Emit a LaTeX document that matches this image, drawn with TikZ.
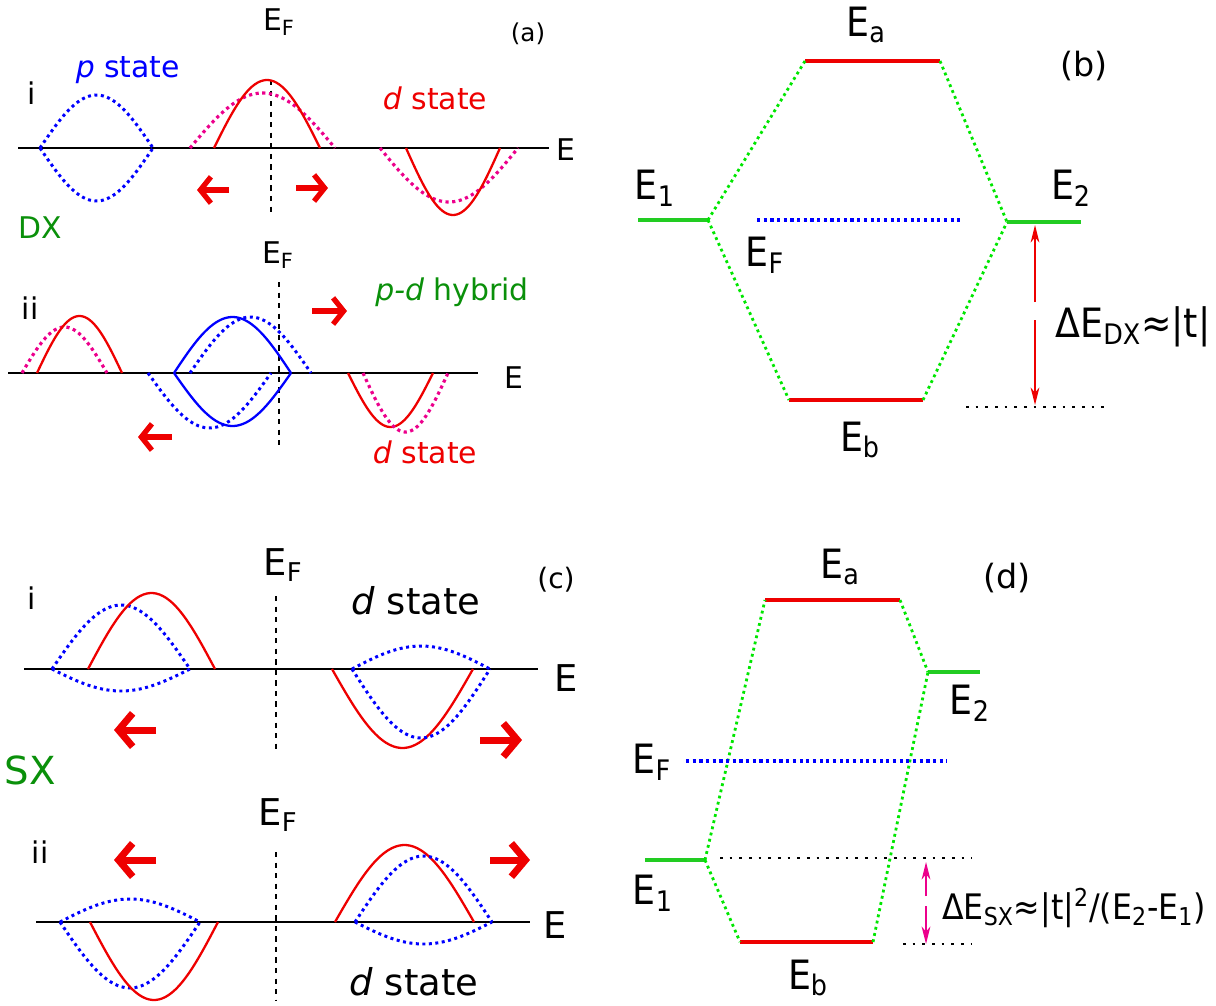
\documentclass[tikz,border=0pt]{standalone}
\usepackage{fontspec}
\setmainfont{DejaVu Sans}
\newfontfamily\condfont{DejaVu Sans Condensed}
\usetikzlibrary{arrows.meta}
\definecolor{dgreen}{HTML}{0A900A}
\definecolor{lgreen}{HTML}{22CC22}
\definecolor{vgreen}{HTML}{00E600}
\definecolor{dred}{HTML}{EE0000}
% one sine lobe: style, start x, end x, amplitude (up), axis y
\newcommand{\lobe}[5]{\draw[#1] plot[domain=0:180,samples=40,smooth] ({#2+(#3-#2)*(\x/180)},{#5-(#4)*sin(\x)});}

\begin{document}
\begin{tikzpicture}[x=0.02cm,y=-0.02cm,
    lab/.style={font=\fontsize{17}{20}\selectfont,inner sep=0pt},
    big/.style={font=\fontsize{21}{25}\selectfont,inner sep=0pt},
    lvl/.style={font=\condfont\fontsize{23}{27}\selectfont,inner sep=0pt},
    axis/.style={line width=1.2pt},
    fermi/.style={dashed,line width=1.2pt},
    dsol/.style={dred,line width=1.3pt},
    psol/.style={blue,line width=1.3pt},
    pdot/.style={blue,dotted,line width=1.7pt},
    mdot/.style={magenta,dotted,line width=1.8pt},
    drift/.style={dred,line width=3pt,-{Straight Barb[length=6pt,width=15pt]}},
    bigdrift/.style={dred,line width=4pt,-{Straight Barb[length=8pt,width=19pt]}},
    level/.style={line width=1.8pt},
    link/.style={vgreen,line width=1.6pt,dash pattern=on 1.6pt off 2pt},
    efdot/.style={blue,dotted,line width=1.8pt},
    refdot/.style={line width=1.5pt,dash pattern=on 1.5pt off 4pt},
    gap/.style={line width=0.8pt,-{Stealth[length=10pt,width=5pt,inset=3pt]}}]
  \useasboundingbox (0,0) rectangle (1216,1005);

  % (a) i
  \draw[axis] (18,148) -- (549,148);
  \draw[fermi] (271,80) -- (271,212);
  \lobe{pdot}{40}{153}{53}{148}
  \lobe{pdot}{40}{153}{-53}{148}
  \lobe{mdot}{190}{335}{55}{148}
  \lobe{dsol}{214}{320}{68}{148}
  \lobe{mdot}{380}{518}{-54}{148}
  \lobe{dsol}{406}{500}{-67}{148}
  \draw[drift] (229,190) -- (197,190);
  \draw[drift] (296,188) -- (328,188);
  \node[lab] (efai) at (279,22) {E\textsubscript{F}};
  \node[lab,font=\fontsize{14}{16}\selectfont] (tagA) at (528,34) {(a)};
  \node[lab,text=blue] (pstate) at (128,70) {\textit{p} state};
  \node[lab] (rowai) at (32,93) {i};
  \node[lab,text=dred] (dstateai) at (435,98) {\textit{d} state};
  \node[lab] (eai) at (566,150) {E};
  \node[lab,text=dgreen] (dx) at (40,228) {DX};

  % (a) ii
  \draw[axis] (8,373) -- (478,373);
  \draw[fermi] (279,282) -- (279,450);
  \lobe{mdot}{22}{107}{46}{373}
  \lobe{dsol}{37}{122}{57}{373}
  \lobe{pdot}{190}{311}{56}{373}
  \lobe{pdot}{148}{271}{-55}{373}
  \lobe{psol}{174}{291}{56}{373}
  \lobe{psol}{174}{291}{-53}{373}
  \lobe{dsol}{348}{433}{-54}{373}
  \lobe{mdot}{363}{448}{-59}{373}
  \draw[drift] (312,311) -- (347,311);
  \draw[drift] (172,437) -- (138,437);
  \node[lab] (efaii) at (278,255) {E\textsubscript{F}};
  \node[lab] (rowaii) at (30,308) {ii};
  \node[lab,text=dgreen] (hybrid) at (452,292) {\textit{p-d} hybrid};
  \node[lab] (eaii) at (514,378) {E};
  \node[lab,text=dred] (dstateaii) at (425,452) {\textit{d} state};

  % (b)
  \coordinate (bEa1) at (805,61);  \coordinate (bEa2) at (940,61);
  \coordinate (bEb1) at (789,400); \coordinate (bEb2) at (923,400);
  \coordinate (bE11) at (638,220); \coordinate (bE12) at (708,220);
  \coordinate (bE21) at (1007,222); \coordinate (bE22) at (1081,222);
  \draw[level,dred] (bEa1) -- (bEa2);
  \draw[level,dred] (bEb1) -- (bEb2);
  \draw[level,lgreen] (bE11) -- (bE12);
  \draw[level,lgreen] (bE21) -- (bE22);
  \draw[link] (bE12) -- (bEa1);
  \draw[link] (bE12) -- (bEb1);
  \draw[link] (bEa2) -- (bE21);
  \draw[link] (bEb2) -- (bE21);
  \draw[efdot] (757,220) -- (963,220);
  \draw[refdot] (966,407) -- (1110,407);
  \coordinate (dxtop) at (1035,225); \coordinate (dxbot) at (1035,405);
  \coordinate (dxm1) at (1035,302);  \coordinate (dxm2) at (1035,320);
  \draw[gap,dred] (dxm1) -- (dxtop);
  \draw[gap,dred] (dxm2) -- (dxbot);
  \node[lvl] (bEa) at (866,25) {E\textsubscript{a}};
  \node[lab,font=\fontsize{19}{22}\selectfont] (tagB) at (1084,66) {(b)};
  \node[lvl] (bE1) at (655,188) {E\textsubscript{1}};
  \node[lvl] (bE2) at (1071,188) {E\textsubscript{2}};
  \node[lvl] (bEF) at (765,255) {E\textsubscript{F}};
  \node[lvl] (bEb) at (860,440) {E\textsubscript{b}};
  \node[lvl] (dEdx) at (1133,327) {ΔE\textsubscript{DX}≈|t|};

  % (c) i
  \draw[axis] (24,669) -- (538,669);
  \draw[fermi] (276,596) -- (276,750);
  \lobe{pdot}{52}{190}{64}{669}
  \lobe{pdot}{52}{190}{-22}{669}
  \lobe{dsol}{88}{215}{76}{669}
  \lobe{dsol}{332}{473}{-79}{669}
  \lobe{pdot}{352}{490}{23}{669}
  \lobe{pdot}{352}{490}{-69}{669}
  \draw[bigdrift] (156,730) -- (114,730);
  \draw[bigdrift] (480,740) -- (522,740);
  \node[big] (efci) at (283,565) {E\textsubscript{F}};
  \node[lab,font=\fontsize{16}{19}\selectfont] (tagC) at (556,580) {(c)};
  \node[lab] (rowci) at (32,598) {i};
  \node[big] (dstateci) at (416,601) {\textit{d} state};
  \node[big] (eci) at (566,678) {E};
  \node[big,font=\fontsize{22}{26}\selectfont,text=dgreen] (sx) at (30,770) {SX};

  % (c) ii
  \draw[axis] (36,922) -- (530,922);
  \draw[fermi] (276,852) -- (276,1000);
  \lobe{pdot}{60}{200}{23}{922}
  \lobe{pdot}{60}{200}{-66}{922}
  \lobe{dsol}{90}{218}{-78}{922}
  \lobe{dsol}{335}{474}{77}{922}
  \lobe{pdot}{355}{492}{66}{922}
  \lobe{pdot}{355}{492}{-22}{922}
  \draw[bigdrift] (156,860) -- (114,860);
  \draw[bigdrift] (490,860) -- (530,860);
  \node[big] (efcii) at (278,815) {E\textsubscript{F}};
  \node[lab] (rowcii) at (40,852) {ii};
  \node[big] (ecii) at (555,925) {E};
  \node[big] (dstatecii) at (414,982) {\textit{d} state};

  % (d)
  \coordinate (dEa1) at (765,600); \coordinate (dEa2) at (900,600);
  \coordinate (dEb1) at (740,942); \coordinate (dEb2) at (873,942);
  \coordinate (dE11) at (645,860); \coordinate (dE12) at (705,860);
  \coordinate (dE21) at (928,672); \coordinate (dE22) at (980,672);
  \draw[level,dred] (dEa1) -- (dEa2);
  \draw[level,dred] (dEb1) -- (dEb2);
  \draw[level,lgreen] (dE11) -- (dE12);
  \draw[level,lgreen] (dE21) -- (dE22);
  \draw[link] (dE12) -- (dEa1);
  \draw[link] (dE12) -- (dEb1);
  \draw[link] (dEa2) -- (dE21);
  \draw[link] (dEb2) -- (dE21);
  \draw[efdot] (686,761) -- (947,761);
  \draw[refdot] (720,858) -- (972,858);
  \draw[refdot] (903,944) -- (972,944);
  \coordinate (sxtop) at (926,862); \coordinate (sxbot) at (926,944);
  \coordinate (sxm1) at (926,896);  \coordinate (sxm2) at (926,906);
  \draw[gap,magenta] (sxm1) -- (sxtop);
  \draw[gap,magenta] (sxm2) -- (sxbot);
  \node[lvl] (dEa) at (840,567) {E\textsubscript{a}};
  \node[lab,font=\fontsize{19}{22}\selectfont] (tagD) at (1007,578) {(d)};
  \node[lvl] (dE2) at (970,703) {E\textsubscript{2}};
  \node[lvl] (dEF) at (652,762) {E\textsubscript{F}};
  \node[lvl] (dE1) at (653,893) {E\textsubscript{1}};
  \node[lvl] (dEb) at (808,978) {E\textsubscript{b}};
  \node[lvl,font=\condfont\fontsize{20}{24}\selectfont] (dEsx) at (1074,908) {ΔE\textsubscript{SX}≈|t|\textsuperscript{2}/(E\textsubscript{2}-E\textsubscript{1})};
\end{tikzpicture}
\end{document}
